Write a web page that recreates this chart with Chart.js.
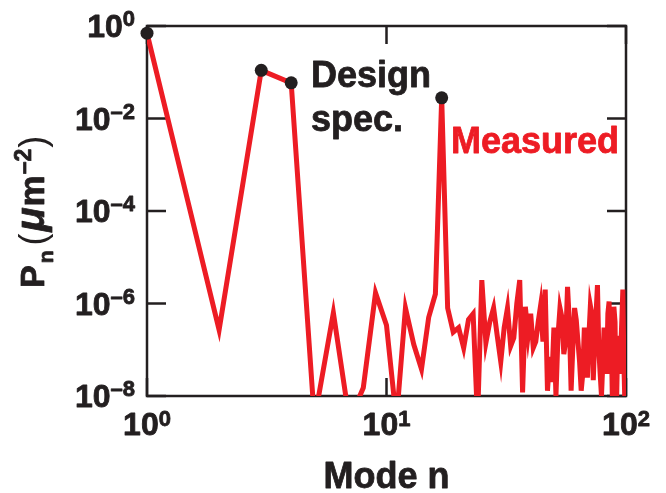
<!DOCTYPE html>
<html>
<head>
<meta charset="utf-8">
<script src="https://cdn.jsdelivr.net/npm/chart.js@4.4.0/dist/chart.umd.min.js"></script>
<style>
  html, body { margin: 0; padding: 0; background: #fff; }
  canvas { display: block; }
</style>
</head>
<body>
<canvas id="modes-chart" width="666" height="493"></canvas>
<script>
// mode number n (x axis)
var modes = [
  1, 2, 3, 4, 5, 6, 7, 8, 9, 10,
  11, 12, 13, 14, 15, 16, 17, 18, 19, 20,
  21, 22, 23, 24, 25, 26, 27, 28, 29, 30,
  31, 32, 33, 34, 35, 36, 37, 38, 39, 40,
  41, 42, 43, 44, 45, 46, 47, 48, 49, 50,
  51, 52, 53, 54, 55, 56, 57, 58, 59, 60,
  61, 62, 63, 64, 65, 66, 67, 68, 69, 70,
  71, 72, 73, 74, 75, 76, 77, 78, 79, 80,
  81, 82, 83, 84, 85, 86, 87, 88, 89, 90,
  91, 92, 93, 94, 95, 96, 97, 98, 99, 100
];

// measured power P_n (um^-2)
var measured = [
  0.7, 2.7e-7, 0.11, 0.059, 3e-9, 6.3e-7, 3e-9, 1.5e-8, 1.7e-6, 3.4e-7,
  3e-9, 8e-7, 1.3e-7, 3.8e-8, 5e-7, 1.6e-6, 0.028, 8e-7, 2.4e-7, 3e-7,
  1.1e-7, 4.5e-7, 6e-7, 3e-9, 3.2e-6, 1.4e-7, 4e-7, 8e-7, 2e-7, 5.5e-8,
  3e-7, 8e-7, 1.2e-7, 1.8e-7, 1e-6, 3.2e-6, 1.2e-8, 8.5e-7, 2e-7, 6e-7,
  1.1e-7, 1.5e-7, 4e-7, 9e-7, 1.5e-7, 2e-6, 1.3e-8, 7e-8, 2e-8, 3e-7,
  1e-8, 2e-7, 8e-7, 5e-7, 8e-8, 1.5e-7, 2.3e-6, 4e-7, 1.3e-8, 1.2e-7,
  8e-7, 4.4e-7, 1.5e-7, 5.5e-8, 1.3e-8, 3e-8, 3e-7, 1.5e-7, 2.5e-8, 2e-7,
  9e-7, 6e-7, 2.2e-8, 1.5e-7, 6e-7, 2.5e-6, 1e-7, 3e-8, 1e-8, 5e-8,
  3e-7, 2e-7, 3e-8, 6e-7, 1.1e-6, 3e-8, 1e-7, 3e-9, 8.5e-7, 4e-7,
  3e-9, 5e-8, 2e-7, 3e-8, 8.5e-8, 4e-7, 2e-6, 5e-8, 6e-9, 1.4e-7
];

// design spec points
var specModes = [1, 3, 4, 17];
var specValues = [0.7, 0.11, 0.059, 0.028];

// axis ticks: value and exponent label
var xTicks = [1, 10, 100];
var xTickExp = ['0', '1', '2'];
var yTicks = [1, 1e-2, 1e-4, 1e-6, 1e-8];
var yTickExp = ['0', '\u20132', '\u20134', '\u20136', '\u20138'];

var INK = '#231f20';
var RED = '#ed1c24';
var FONT = "'Liberation Sans', Arial, Helvetica, sans-serif";

// heavy text: fill plus a thin stroke, the original lettering is a bit blacker
function heavyText(ctx, s, x, y) {
    ctx.fillText(s, x, y);
    ctx.strokeText(s, x, y);
}

function drawPower(ctx, x, y, exp, align, rise) {
    ctx.font = 'bold 32px ' + FONT;
    var wb = ctx.measureText('10').width;
    ctx.font = 'bold 22px ' + FONT;
    var we = ctx.measureText(exp).width;
    var x0 = align === 'right' ? x - wb - we : x - (wb + we) / 2;
    ctx.font = 'bold 32px ' + FONT;
    heavyText(ctx, '10', x0, y);
    ctx.font = 'bold 22px ' + FONT;
    heavyText(ctx, exp, x0 + wb, y - rise);
}

var framePlugin = {
    id: 'frame',
    beforeDatasetsDraw: function (chart) {
        var ctx = chart.ctx;
        var a = chart.chartArea;
        var xs = chart.scales.x;
        var ys = chart.scales.y;
        ctx.save();
        ctx.strokeStyle = INK;
        ctx.lineWidth = 2.5;
        ctx.strokeRect(a.left, a.top, a.right - a.left, a.bottom - a.top);
        ctx.beginPath();
        yTicks.forEach(function (v) {
            var py = ys.getPixelForValue(v);
            ctx.moveTo(a.left, py); ctx.lineTo(a.left + 19, py);
            ctx.moveTo(a.right, py); ctx.lineTo(a.right - 19, py);
        });
        xTicks.forEach(function (v) {
            var px = xs.getPixelForValue(v);
            ctx.moveTo(px, a.bottom); ctx.lineTo(px, a.bottom - 18);
            ctx.moveTo(px, a.top); ctx.lineTo(px, a.top + 18);
        });
        ctx.stroke();
        ctx.restore();
    },
    afterDraw: function (chart) {
        var ctx = chart.ctx;
        var a = chart.chartArea;
        var xs = chart.scales.x;
        var ys = chart.scales.y;
        ctx.save();
        ctx.fillStyle = INK;
        ctx.strokeStyle = INK;
        ctx.lineWidth = 0.8;
        ctx.lineJoin = 'round';
        ctx.textBaseline = 'alphabetic';
        ctx.textAlign = 'left';

        // tick labels
        yTicks.forEach(function (v, i) {
            drawPower(ctx, a.left - 12, ys.getPixelForValue(v) + 11, yTickExp[i], 'right', 11);
        });
        xTicks.forEach(function (v, i) {
            drawPower(ctx, xs.getPixelForValue(v), a.bottom + 39, xTickExp[i], 'center', 9);
        });

        // x title
        ctx.font = 'bold 36px ' + FONT;
        ctx.textAlign = 'center';
        heavyText(ctx, 'Mode n', (a.left + a.right) / 2, 488);
        ctx.textAlign = 'left';

        // y title, rotated
        ctx.save();
        ctx.translate(44, 288);
        ctx.rotate(-Math.PI / 2);
        var x = 0;
        ctx.font = 'bold 34px ' + FONT;
        heavyText(ctx, 'P', x, 0); x += ctx.measureText('P').width + 2;
        ctx.font = 'bold 21px ' + FONT;
        heavyText(ctx, 'n', x, 9); x += ctx.measureText('n').width + 5;
        ctx.font = '36px ' + FONT;
        ctx.fillText('(', x, 1); x += ctx.measureText('(').width + 2;
        ctx.font = 'italic bold 40px ' + FONT;
        heavyText(ctx, '\u03bc', x, 0); x += ctx.measureText('\u03bc').width + 1;
        ctx.font = 'bold 35px ' + FONT;
        heavyText(ctx, 'm', x, 0); x += ctx.measureText('m').width + 1;
        ctx.font = 'bold 23px ' + FONT;
        heavyText(ctx, '\u20132', x, -13); x += ctx.measureText('\u20132').width + 1;
        ctx.font = '36px ' + FONT;
        ctx.fillText(')', x, 1);
        ctx.restore();

        // annotations
        ctx.font = 'bold 36px ' + FONT;
        heavyText(ctx, 'Design', 311, 87);
        heavyText(ctx, 'spec.', 311, 131);
        ctx.fillStyle = RED;
        ctx.strokeStyle = RED;
        heavyText(ctx, 'Measured', 451, 153);
        ctx.restore();
    }
};

var config = {
    type: 'scatter',
    data: {
        datasets: [{
            label: 'Design spec.',
            data: specModes.map(function (n, i) { return { x: n, y: specValues[i] }; }),
            showLine: false,
            pointRadius: 6.5,
            pointBackgroundColor: INK,
            pointBorderWidth: 0,
            clip: false,
            order: 0
        }, {
            label: 'Measured',
            data: modes.map(function (n, i) { return { x: n, y: measured[i] }; }),
            showLine: true,
            borderColor: RED,
            borderWidth: 5,
            pointRadius: 0,
            tension: 0,
            order: 1
        }]
    },
    options: {
        responsive: false,
        animation: false,
        devicePixelRatio: 1,
        events: [],
        layout: {
            padding: { left: 147, top: 26, right: 40, bottom: 97 }
        },
        plugins: {
            legend: { display: false },
            tooltip: { enabled: false }
        },
        scales: {
            x: { type: 'logarithmic', min: 1, max: 100, display: false },
            y: { type: 'logarithmic', min: 1e-8, max: 1, display: false }
        }
    },
    plugins: [framePlugin]
};

window.onload = function () {
    var ctx = document.getElementById('modes-chart').getContext('2d');
    window.modesChart = new Chart(ctx, config);
};
</script>
</body>
</html>
